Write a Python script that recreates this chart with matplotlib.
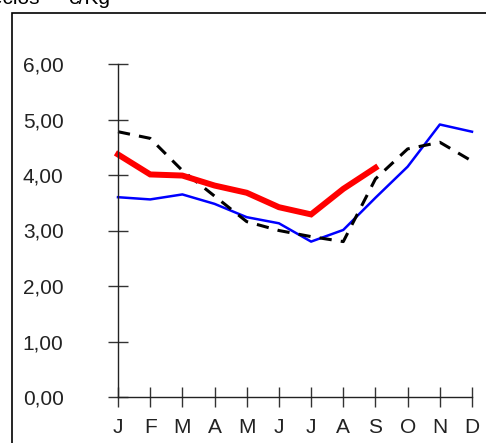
import numpy as np
import matplotlib
matplotlib.use('Agg')
import matplotlib.pyplot as plt
from matplotlib.patches import Rectangle

plt.rcParams['font.family'] = ['Liberation Sans', 'DejaVu Sans']

# --- data ---
months = ['J', 'F', 'M', 'A', 'M', 'J', 'J', 'A', 'S', 'O', 'N', 'D']
y_ticks = [0, 1, 2, 3, 4, 5, 6]
blue_series = [3.60, 3.56, 3.65, 3.48, 3.24, 3.13, 2.80, 3.01, 3.59, 4.15, 4.91, 4.78]
black_series = [4.78, 4.66, 4.08, 3.62, 3.16, 3.00, 2.89, 2.80, 3.93, 4.47, 4.59, 4.25]
red_series = [4.37, 4.01, 3.99, 3.81, 3.68, 3.42, 3.29, 3.75, 4.13]

W, H = 486, 443
fig = plt.figure(figsize=(W / 100, H / 100), dpi=100)

# frame box (runs off the right/bottom edge)
fig.patches.append(Rectangle((12 / W, -0.2), 1.2, 1.2 - 13 / H, transform=fig.transFigure,
                             fill=False, edgecolor='black', linewidth=1.2))

# partially cut title text at the top
fig.text(40 / W, 1 - 4 / H, 'Precios', ha='right', va='baseline', fontsize=15)
fig.text(68 / W, 1 - 4 / H, '€/Kg', ha='left', va='baseline', fontsize=15)

ax = fig.add_axes([118 / W, 46 / H, 354 / W, 333 / H])
x = np.arange(len(months))

ax.plot(x, blue_series, color='#0000ff', lw=1.8, clip_on=False)
ax.plot(x, black_series, color='black', lw=2.2, dashes=(4, 3), clip_on=False)
ax.plot(np.arange(len(red_series)), red_series, color='#ff0000', lw=4.3,
        solid_joinstyle='miter', clip_on=False)

ax.set_xlim(0, 11)
ax.set_ylim(0, 6)
ax.set_xticks(x)
ax.set_xticklabels(months)
ax.set_yticks(y_ticks)
ax.set_yticklabels([f'{v:.2f}'.replace('.', ',') for v in y_ticks])

for s in ['top', 'right']:
    ax.spines[s].set_visible(False)
for s in ['left', 'bottom']:
    ax.spines[s].set_color('#222222')
    ax.spines[s].set_linewidth(1.0)

ax.tick_params(axis='both', direction='inout', length=14.4, width=1.0, color='#333333',
               labelsize=15, labelcolor='#222222')
ax.tick_params(axis='y', pad=32)
ax.tick_params(axis='x', pad=8)
ax.patch.set_visible(False)

fig.savefig('out.png', dpi=100)
